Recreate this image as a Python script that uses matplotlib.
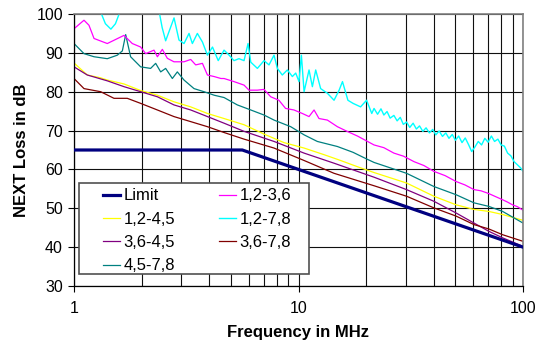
import matplotlib
matplotlib.use('Agg')
import matplotlib.pyplot as plt
from matplotlib.patches import Rectangle
from matplotlib.ticker import FixedLocator, NullFormatter, NullLocator

plt.rcParams['font.family'] = ['Liberation Sans', 'DejaVu Sans']

# Limit line
f_limit = [1, 5.62, 100]
v_limit = [65, 65, 40]

# 1,2-3,6 (magenta)
f_12_36 = [1.0, 1.108, 1.166, 1.228, 1.407, 1.67, 1.818, 1.981, 2.086, 2.272, 2.352, 2.475,
           2.604, 2.788, 3.091, 3.311, 3.484, 3.733, 3.93, 4.21, 4.514, 4.66, 5.16, 5.72,
           6.02, 6.56, 7.02, 7.52, 8.18, 8.76, 9.55, 10.4, 11.14, 11.73, 12.34, 13.45,
           14.9, 16.6, 18.3, 20.0, 21.7, 24.0, 26.6, 29.4, 32.7, 36.2, 40.1, 45.0, 50.3,
           55.2, 60.5, 65.0, 70.3, 75.5, 81.1, 85.3, 89.7, 94.5, 98.2, 100]
v_12_36 = [96.2, 98.4, 97.1, 93.7, 92.4, 94.5, 92.4, 91.5, 89.8, 90.7, 89.0, 90.9,
           88.6, 87.7, 87.7, 88.3, 86.9, 87.3, 84.3, 83.9, 83.4, 83.4, 82.6, 81.7,
           80.4, 80.4, 80.6, 78.7, 77.8, 75.7, 75.3, 74.4, 73.6, 75.3, 73.1, 72.7,
           71.0, 69.7, 68.6, 67.4, 66.3, 65.6, 64.2, 63.4, 62.0, 61.0, 59.5, 58.4, 56.9,
           56.0, 54.8, 54.5, 53.8, 53.0, 52.2, 51.6, 50.9, 50.4, 49.8, 49.5]

# 1,2-4,5 (yellow)
f_12_45 = [1.0, 1.146, 1.31, 1.407, 1.67, 1.981, 2.352, 2.788, 3.311, 3.93, 4.66, 5.72,
           7.02, 8.62, 10.59, 12.99, 15.4, 18.3, 21.7, 30.3, 40.1, 50.3, 60.5, 70.3,
           81.1, 100]
v_12_45 = [87.4, 84.3, 83.6, 83.0, 82.0, 80.3, 79.1, 77.4, 76.1, 74.4, 73.1, 71.5,
           69.1, 66.9, 65.5, 63.8, 62.3, 60.7, 59.2, 56.5, 53.1, 50.9, 49.7, 49.2,
           48.4, 46.9]

# 1,2-7,8 (cyan)
f_12_78 = [1.25, 1.315, 1.38, 1.46, 1.53, 1.61, 1.7, 2.3, 2.39, 2.47, 2.56, 2.79,
           2.935, 3.091, 3.254, 3.367, 3.544, 3.733, 3.93, 4.139, 4.39, 4.66, 4.91, 5.16,
           5.43, 5.72, 5.96, 6.13, 6.56, 7.02, 7.39, 7.78, 8.05, 8.47, 8.92, 9.39, 9.72,
           10.05, 10.3, 10.59, 11.14, 11.53, 11.93, 12.55, 13.45, 14.4, 15.17, 15.7,
           16.6, 17.5, 18.9, 20.1, 21.2, 21.7, 22.5, 23.3, 24.0, 24.8, 25.6, 26.6, 27.5,
           28.4, 29.3, 30.3, 31.3, 32.4, 33.5, 34.6, 35.8, 37.0, 38.3, 39.6, 40.9, 42.3,
           43.8, 45.3, 46.8, 48.4, 50.0, 51.7, 53.5, 55.3, 57.2, 59.1, 61.1, 63.2, 65.4,
           67.6, 69.9, 72.3, 74.7, 77.3, 79.9, 82.6, 85.4, 88.3, 91.3, 94.4, 97.6, 100]
v_12_78 = [104, 100.5, 97.5, 96.1, 97.5, 100.9, 104, 104, 100.9, 96.5, 93.1, 99.0,
           93.3, 92.4, 95.0, 92.4, 95.0, 92.8, 89.4, 91.5, 88.0, 90.7, 89.4, 88.0,
           88.5, 88.0, 92.4, 87.6, 86.0, 88.0, 86.9, 89.4, 86.0, 84.3, 85.6, 83.9, 84.8,
           82.6, 89.4, 80.0, 85.6, 81.3, 85.6, 80.8, 79.6, 77.8, 80.4, 82.6,
           77.8, 77.0, 76.1, 77.8, 74.4, 75.7, 74.2, 75.6, 74.0, 74.9, 73.2, 73.9, 72.5,
           73.4, 71.6, 72.2, 70.8, 71.9, 70.4, 71.2, 69.8, 70.7, 69.4, 70.3, 68.9, 69.9,
           68.5, 69.4, 68.0, 69.0, 67.5, 68.6, 66.9, 68.1, 66.4, 64.6, 65.8, 67.2, 66.3,
           68.0, 67.0, 68.6, 67.2, 67.8, 66.3, 66.0, 64.2, 63.5, 62.0, 61.2, 60.4, 59.5]

# 3,6-4,5 (purple)
f_36_45 = [1.0, 1.146, 1.407, 1.67, 1.981, 2.352, 2.788, 3.311, 3.93, 4.66, 5.72, 7.78,
           10.59, 14.4, 21.7, 30.3, 40.1, 50.3, 60.5, 70.3, 81.1, 100]
v_36_45 = [86.4, 84.3, 82.8, 81.3, 80.0, 78.7, 76.6, 75.3, 73.6, 71.9, 69.8, 67.2,
           64.2, 61.6, 58.0, 54.8, 51.8, 48.8, 46.2, 44.1, 42.4, 40.2]

# 3,6-7,8 (dark red)
f_36_78 = [1.0, 1.108, 1.315, 1.507, 1.727, 1.981, 2.352, 2.788, 3.311, 3.93, 4.66, 5.72,
           7.78, 10.59, 14.4, 21.7, 30.3, 40.1, 50.3, 60.5, 70.3, 81.1, 100]
v_36_78 = [83.4, 80.8, 80.0, 78.3, 78.3, 77.0, 75.3, 73.6, 72.3, 71.0, 69.5, 67.8,
           65.5, 62.3, 59.0, 55.8, 53.1, 50.1, 48.0, 45.8, 44.7, 43.2, 41.5]

# 4,5-7,8 (teal)
f_45_78 = [1.0, 1.108, 1.228, 1.407, 1.559, 1.642, 1.699, 1.787, 1.981, 2.194, 2.311,
           2.433, 2.56, 2.742, 2.886, 3.091, 3.425, 3.796, 4.21, 4.66, 5.34, 6.13, 7.02,
           7.78, 9.23, 10.59, 12.13, 14.9, 17.5, 20.1, 21.7, 30.3, 40.1, 50.3, 60.5,
           70.3, 81.1, 100]
v_45_78 = [92.4, 89.8, 89.0, 88.5, 89.4, 90.5, 94.7, 89.0, 86.4, 86.0, 87.3,
           85.1, 86.0, 83.4, 85.1, 83.0, 80.8, 80.0, 79.1, 78.5, 76.6, 75.3, 74.0,
           72.7, 71.0, 68.9, 67.2, 65.9, 64.4, 62.7, 61.8, 59.0, 55.6, 53.5, 51.4,
           50.5, 49.2, 46.2]

fig = plt.figure(figsize=(5.39, 3.43), dpi=100)
ax = fig.add_axes([74 / 539, 1 - 286 / 343, 449 / 539, 272 / 343])

ax.plot(f_limit, v_limit, color='#000080', lw=2.3, label='Limit', zorder=5)
ax.plot(f_12_45, v_12_45, color='#FFFF00', lw=0.9, label='1,2-4,5')
ax.plot(f_36_45, v_36_45, color='#800080', lw=0.9, label='3,6-4,5')
ax.plot(f_45_78, v_45_78, color='#008080', lw=0.9, label='4,5-7,8')
ax.plot(f_12_36, v_12_36, color='#FF00FF', lw=0.9, label='1,2-3,6')
ax.plot(f_12_78, v_12_78, color='#00FFFF', lw=1.0, label='1,2-7,8')
ax.plot(f_36_78, v_36_78, color='#800000', lw=0.9, label='3,6-7,8')

ax.set_xscale('log')
ax.set_xlim(1, 100)
ax.set_ylim(30, 100)
ax.set_yticks(range(30, 101, 10))
ax.xaxis.set_major_locator(FixedLocator([1, 10, 100]))
ax.set_xticklabels(['1', '10', '100'])
ax.xaxis.set_minor_locator(FixedLocator([2, 3, 4, 5, 6, 7, 8, 9, 20, 30, 40, 50, 60, 70, 80, 90]))
ax.xaxis.set_minor_formatter(NullFormatter())
ax.yaxis.set_minor_locator(NullLocator())

ax.grid(True, which='both', axis='x', color='#101010', lw=0.8)
ax.grid(True, which='major', axis='y', color='#101010', lw=0.8)
ax.set_axisbelow(True)
ax.tick_params(axis='x', which='minor', length=0)
ax.tick_params(axis='both', which='major', direction='out', length=4, width=0.8,
               labelsize=11.5, colors='black')
ax.tick_params(axis='x', which='major', pad=7)
ax.tick_params(axis='y', which='major', pad=4)

for s in ['top', 'right']:
    ax.spines[s].set_color('#808080')
    ax.spines[s].set_linewidth(1.2)
for s in ['left', 'bottom']:
    ax.spines[s].set_color('black')
    ax.spines[s].set_linewidth(0.9)

fig.text(298 / 539, 1 - 333 / 343, 'Frequency in MHz', ha='center', va='center',
         fontsize=12, fontweight='bold')
fig.text(22 / 539, 1 - 150 / 343, 'NEXT Loss in dB', ha='center', va='center',
         rotation=90, fontsize=12, fontweight='bold')

# legend box drawn separately so the handles sit inset like the original
box = Rectangle((0.0118, 0.0441), 0.512, 0.3335, transform=ax.transAxes,
                facecolor='white', edgecolor='#505050', lw=1.2, zorder=9)
ax.add_patch(box)
leg = ax.legend(ncol=2, loc='upper left', bbox_to_anchor=(0.0639, 0.3585),
                fontsize=12, frameon=False, borderpad=0,
                labelspacing=0.5, handlelength=1.06, handletextpad=0.2,
                columnspacing=2.6, borderaxespad=0)
leg.set_zorder(10)

fig.savefig('out.png', dpi=100)
